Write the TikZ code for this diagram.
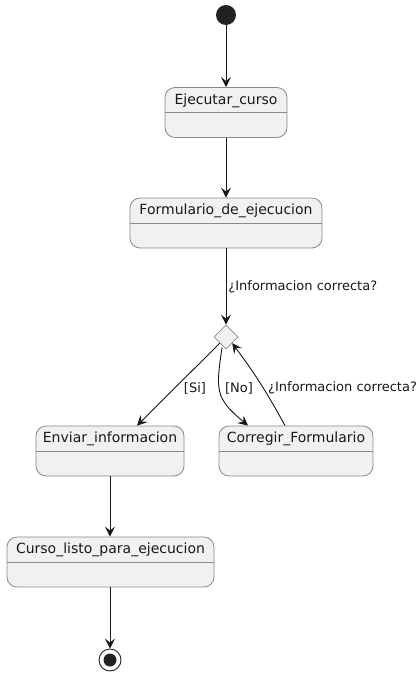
\documentclass[tikz,border=0pt]{standalone}
\usepackage{fontspec}
\setmainfont{DejaVu Sans}
\usetikzlibrary{shapes.geometric,arrows.meta,calc}
\definecolor{boxfill}{HTML}{F1F1F1}
\definecolor{boxline}{HTML}{8A8A8A}
\definecolor{ink}{HTML}{181818}
\definecolor{dot}{HTML}{222222}
\begin{document}
\begin{tikzpicture}[x=1pt,y=-1pt,
  statebox/.style={draw=boxline, fill=boxfill, rounded corners=10pt, line width=0.8pt,
    minimum height=50pt, inner sep=0pt,
    path picture={\draw[boxline, line width=0.8pt] (path picture bounding box.west) -- (path picture bounding box.east);}},
  stitle/.style={font=\fontsize{14}{16}\selectfont, text=ink, inner sep=0pt},
  elabel/.style={font=\fontsize{13}{15}\selectfont, text=ink, inner sep=0pt},
  conn/.style={draw=ink, line width=0.9pt, -{Stealth[length=10pt,width=10pt,inset=4pt]}},
  choice/.style={diamond, draw=boxline, fill=boxfill, line width=0.8pt, minimum width=24pt, minimum height=24pt, inner sep=0pt}
]
\useasboundingbox (0,0) rectangle (420,675);
\fill[white] (0,0) rectangle (420,675);

\node[circle, fill=dot, minimum size=20pt, inner sep=0pt] (start) at (226,15) {};

\node[statebox, minimum width=122pt] (ej) at (226,112.5) {};
\node[stitle] (ejt) at ($(ej.center)+(0,-12)$) {Ejecutar\_curso};

\node[statebox, minimum width=192pt] (form) at (226,223) {};
\node[stitle] (formt) at ($(form.center)+(0,-12)$) {Formulario\_de\_ejecucion};

\node[choice] (dia) at (226,337) {};

\node[statebox, minimum width=148pt] (env) at (110,451) {};
\node[stitle] (envt) at ($(env.center)+(0,-12)$) {Enviar\_informacion};

\node[statebox, minimum width=154pt] (corr) at (296,451) {};
\node[stitle] (corrt) at ($(corr.center)+(0,-12)$) {Corregir\_Formulario};

\node[statebox, minimum width=207pt] (curso) at (110.5,562) {};
\node[stitle] (cursot) at ($(curso.center)+(0,-12)$) {Curso\_listo\_para\_ejecucion};

\node[circle, draw=dot, fill=white, line width=0.9pt, minimum size=22pt, inner sep=0pt] (end) at (110,660) {};
\node[circle, fill=dot, minimum size=13pt, inner sep=0pt] (endin) at (end.center) {};

\draw[conn] (start) -- (ej.north);
\draw[conn] (ej.south) -- (form.north);
\draw[conn] (form.south) -- (dia.north)
  node[elabel, pos=0.5, anchor=west, xshift=2pt] (l1) {¿Informacion correcta?};
\draw[conn] (dia.south west) -- ($(env.north)+(27,0)$);
\node[elabel] (lsi) at (195,388) {[Si]};
\draw[conn] ($(dia.south)+(-4,-2)$) to[out=-98,in=140,looseness=1.35] ($(corr.north)+(-48,0)$);
\node[elabel] (lno) at (239,388) {[No]};
\draw[conn] ($(corr.north)+(-11,0)$) to[bend right=4] (dia.south east);
\node[elabel, anchor=west] (l2) at (268,388) {¿Informacion correcta?};
\draw[conn] (env.south) -- (curso.north -| env.south);
\draw[conn] (curso.south -| end.north) -- (end.north);
\end{tikzpicture}
\end{document}
